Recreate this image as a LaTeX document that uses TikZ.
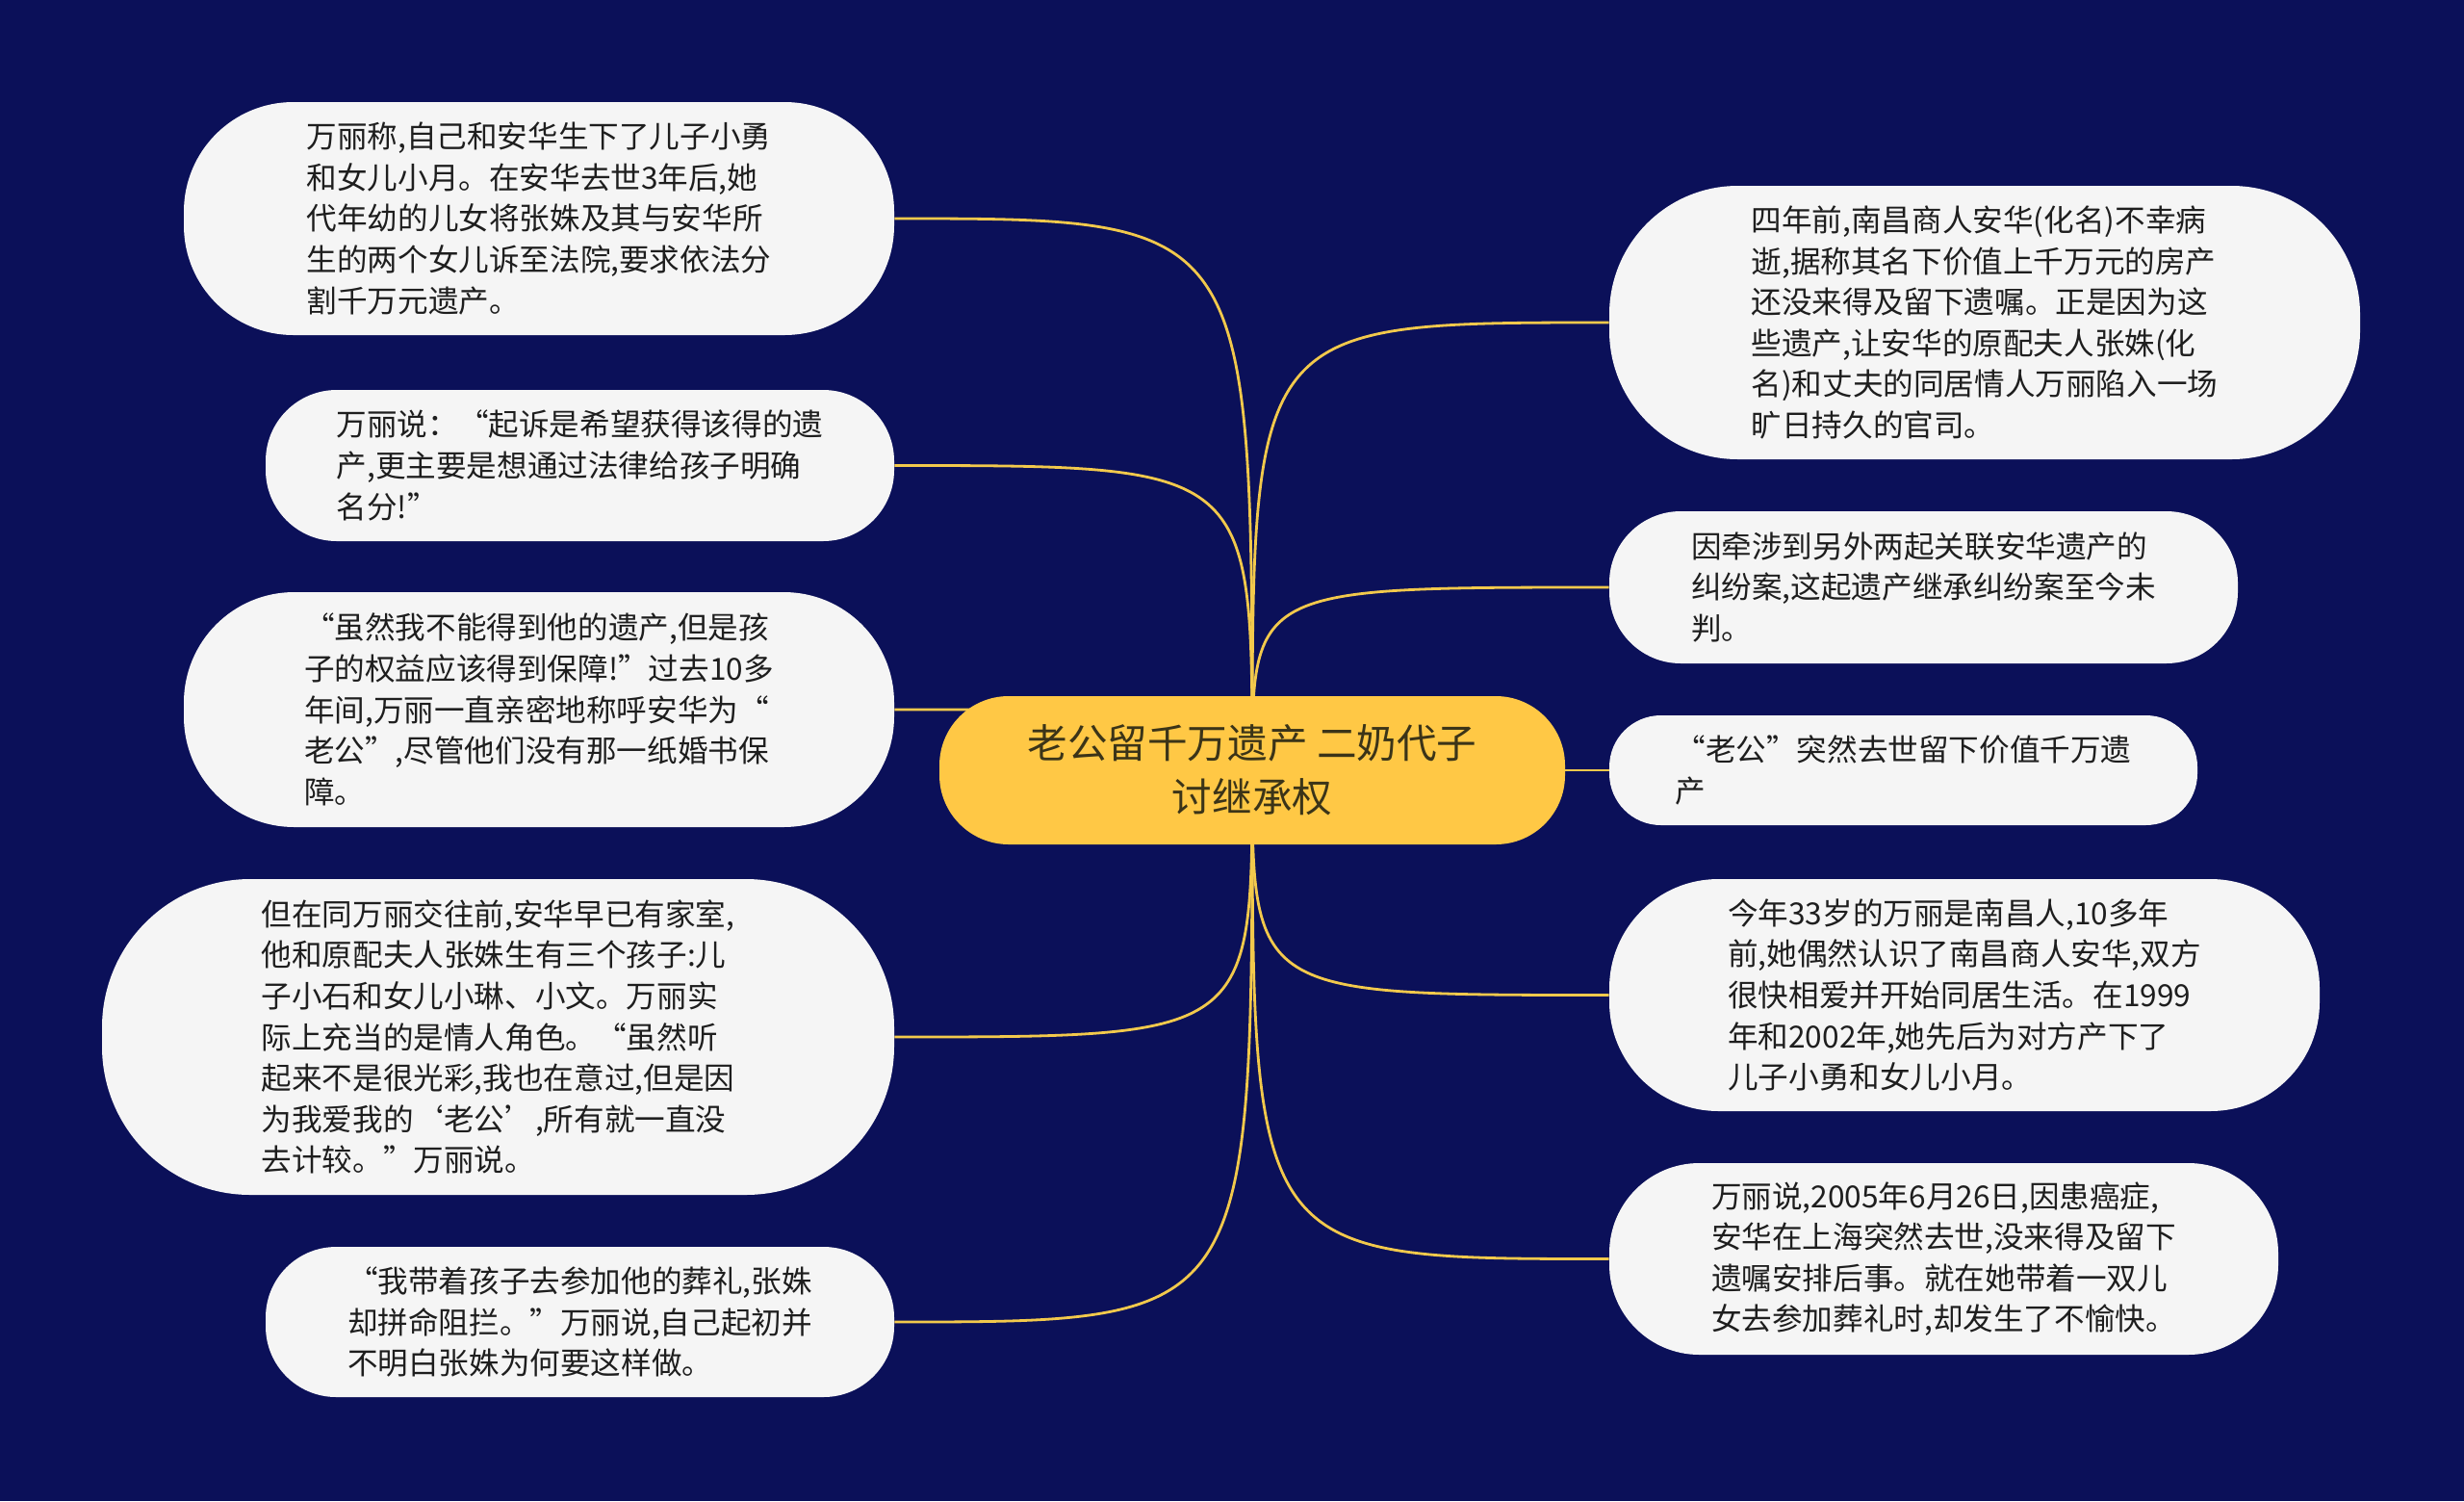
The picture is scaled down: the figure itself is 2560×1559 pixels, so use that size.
\documentclass[tikz,border=0pt]{standalone}
\usepackage{fontspec}
\setmainfont{Noto Sans CJK SC}
\usetikzlibrary{backgrounds}

\definecolor{navy}{HTML}{0B1059}
\definecolor{gold}{HTML}{F2C94C}
\definecolor{topicfill}{HTML}{FFC845}
\definecolor{topicink}{HTML}{3B3418}
\definecolor{leaffill}{HTML}{F5F5F5}
\definecolor{ink}{HTML}{1E1E1E}

\tikzset{
  topic/.style={fill=topicfill, text=topicink, rounded corners=36pt,
    minimum width=325pt, minimum height=77pt, align=center, inner sep=0pt,
    font=\fontsize{20.8pt}{28pt}\selectfont},
  leaf/.style 2 args={fill=leaffill, text=ink, rounded corners={0.47*#2},
    minimum width=#1, minimum height=#2, align=left, inner sep=0pt,
    font=\fontsize{15.8pt}{21.3pt}\selectfont},
  branch/.style={draw=gold, line width=1.4pt},
}

\begin{document}
\begin{tikzpicture}[x=0.5pt, y=-0.5pt]
    \node[topic] (main) at (1301,800) {老公留千万遗产 二奶代子\\讨继承权};

    \node[leaf={369pt}{121pt}] (birth) at (560,227) {万丽称,自己和安华生下了儿子小勇\\和女儿小月。在安华去世3年后,她\\代年幼的儿女将张姝及其与安华所\\生的两个女儿诉至法院,要求依法分\\割千万元遗产。};
    \node[leaf={326.5pt}{78.5pt}] (claim) at (602.5,483.5) {万丽说：“起诉是希望获得该得的遗\\产,更主要是想通过法律给孩子明确\\名分!”};
    \node[leaf={369pt}{122pt}] (rights) at (560,737) {“虽然我不能得到他的遗产,但是孩\\子的权益应该得到保障!”过去10多\\年间,万丽一直亲密地称呼安华为“\\老公”,尽管他们没有那一纸婚书保\\障。};
    \node[leaf={411.5pt}{164pt}] (wife) at (517.5,1077) {但在同万丽交往前,安华早已有家室,\\他和原配夫人张姝生有三个孩子:儿\\子小石和女儿小琳、小文。万丽实\\际上充当的是情人角色。“虽然听\\起来不是很光彩,我也在意过,但是因\\为我爱我的‘老公’,所有就一直没\\去计较。”万丽说。};
    \node[leaf={326.5pt}{78pt}] (funeral) at (602.5,1373) {“我带着孩子去参加他的葬礼,张姝\\却拼命阻拦。”万丽说,自己起初并\\不明白张姝为何要这样做。};

    \node[leaf={390pt}{142pt}] (intro) at (2062,335) {四年前,南昌商人安华(化名)不幸病\\逝,据称其名下价值上千万元的房产\\还没来得及留下遗嘱。正是因为这\\些遗产,让安华的原配夫人张姝(化\\名)和丈夫的同居情人万丽陷入一场\\旷日持久的官司。};
    \node[leaf={326.5pt}{79pt}] (dispute) at (1998.5,610) {因牵涉到另外两起关联安华遗产的\\纠纷案,这起遗产继承纠纷案至今未\\判。};
    \node[leaf={305.5pt}{57pt}] (death) at (1977.5,800) {“老公”突然去世留下价值千万遗\\产};
    \node[leaf={369pt}{120.5pt}] (meet) at (2041,1033.5) {今年33岁的万丽是南昌人,10多年\\前,她偶然认识了南昌商人安华,双方\\很快相爱并开始同居生活。在1999\\年和2002年,她先后为对方产下了\\儿子小勇和女儿小月。};
    \node[leaf={347.5pt}{99.5pt}] (cancer) at (2019.5,1307.5) {万丽说,2005年6月26日,因患癌症,\\安华在上海突然去世,没来得及留下\\遗嘱安排后事。就在她带着一双儿\\女去参加葬礼时,却发生了不愉快。};

    \begin{scope}[on background layer]
      \fill[navy] (0,0) rectangle (2560,1559);
      \foreach \n/\side in {birth/east, claim/east, rights/east, wife/east, funeral/east,
                            intro/west, dispute/west, death/west, meet/west, cancer/west}
        \draw[branch] (main.center) .. controls (main.center |- \n.\side) .. (\n.\side);
    \end{scope}
\end{tikzpicture}
\end{document}
